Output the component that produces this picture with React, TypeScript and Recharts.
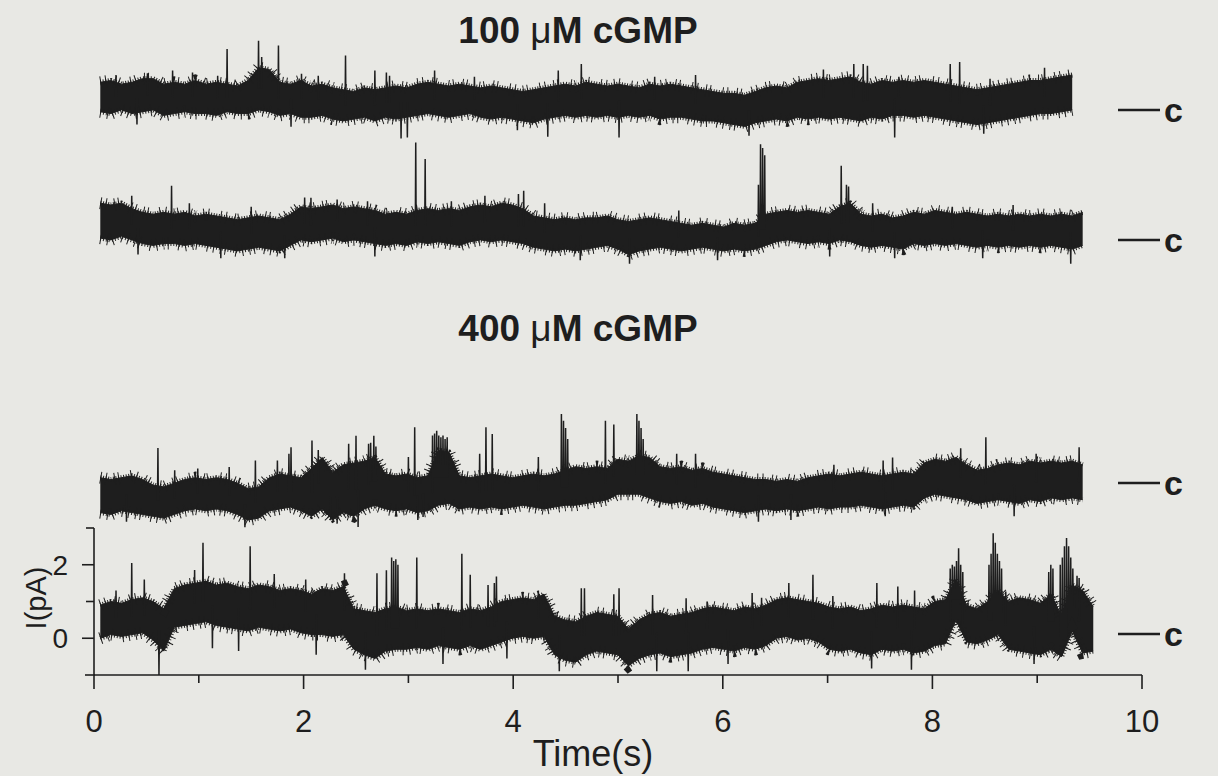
import React from 'react'
import { Area, ComposedChart, Line, XAxis, YAxis } from 'recharts'

const INK = '#1e1e1e'
const PAPER = '#e8e8e4'
const SANS = "'Liberation Sans', Arial, sans-serif"

const T0 = 0.06
const DT = 0.1008

const TIME_TICKS = [0, 1, 2, 3, 4, 5, 6, 7, 8, 9, 10]
const CURRENT_TICKS = [0, 1, 2, 3]

// 100 uM cGMP, sweep 1
const HI_1 = [
  0.95, 1.0, 0.9, 0.95, 1.05, 1.05, 0.9, 0.95, 0.9, 1.0,
  0.9, 0.95, 0.9, 0.85, 1.0, 1.35, 1.3, 0.95, 0.9, 1.0,
  0.85, 0.9, 0.8, 0.75, 0.7, 0.8, 0.75, 0.8, 0.85, 0.8,
  0.9, 0.95, 0.9, 0.85, 0.9, 0.85, 0.8, 0.85, 0.8, 0.75,
  0.7, 0.75, 0.8, 0.85, 0.9, 0.85, 0.95, 0.9,
  0.85, 0.9, 0.85, 0.8, 0.9, 0.85, 0.9, 0.85, 0.8, 0.75,
  0.7, 0.65, 0.65, 0.6, 0.7, 0.8, 0.85, 0.8, 0.95, 1.0,
  1.05, 1.0, 1.05, 1.1, 0.95, 0.9, 1.0, 0.95, 1.0, 0.95,
  1.0, 0.95, 0.9, 0.85, 0.8, 0.75, 0.8, 0.85, 0.9, 0.95,
  1.0, 1.0, 1.05, 1.1, 1.15,
]
const LO_1 = [
  0.15, 0.1, 0.2, 0.1, 0.15, 0.2, 0.05, 0.1, 0.15, 0.1,
  0.1, 0.05, 0.15, 0.1, 0.1, 0.2, 0.15, 0.05, 0.1, 0.0,
  0.0, 0.05, -0.05, -0.1, -0.05, 0.0, -0.1, 0.0, -0.05, 0.0,
  0.05, 0.1, 0.05, 0.0, 0.05, 0.1, 0.0, -0.05, 0.0, -0.05,
  -0.1, -0.15, -0.05, 0.0, 0.05, 0.0, 0.05, 0.0,
  0.05, 0.0, 0.05, 0.0, 0.05, -0.05, 0.0, 0.0, -0.05, -0.1,
  -0.1, -0.15, -0.2, -0.25, -0.15, -0.1, -0.05, -0.1, 0.0, -0.05,
  0.0, -0.05, 0.0, -0.05, -0.1, 0.0, -0.05, 0.05, 0.05, 0.0,
  0.05, 0.0, -0.05, -0.1, -0.15, -0.2, -0.15, -0.1, -0.05, 0.0,
  0.05, 0.1, 0.1, 0.15, 0.2,
]
const SPK_1: [number, number][] = [
  [0.21, 1.15], [0.41, -0.2], [0.51, 1.2], [0.75, 1.27], [0.94, 1.22], [1.18, 1.13], [1.27, 1.86],
  [1.57, 2.08], [1.6, 1.64], [1.76, 1.95], [1.88, -0.26], [1.98, 1.18], [2.14, 1.13], [2.4, 1.68],
  [2.68, 1.27], [2.79, 1.22], [2.82, 1.13], [2.93, -0.58], [2.99, -0.55], [3.25, 1.27], [3.63, 1.1],
  [4.04, -0.35], [4.33, -0.53], [4.43, 1.27], [4.65, 1.45], [5.01, -0.55], [5.35, 1.1], [5.74, 1.15],
  [6.25, -0.5], [6.96, 1.3], [7.25, 1.45], [7.34, 1.45], [7.38, 1.4], [7.64, -0.55], [7.68, 1.1],
  [8.17, 1.45], [8.26, 1.5], [8.49, -0.45], [8.55, 1.05], [9.07, 1.35],
]

// 100 uM cGMP, sweep 2
const HI_2 = [
  1.2, 1.15, 1.2, 1.05, 0.95, 0.9, 0.95, 0.9, 0.95, 0.85,
  0.9, 0.85, 0.8, 0.75, 0.8, 0.85, 0.8, 0.75, 0.9, 1.1,
  1.05, 1.1, 1.15, 1.05, 1.1, 1.05, 1.0, 0.9, 0.95, 0.9,
  1.0, 1.05, 1.0, 1.05, 1.0, 1.1, 1.15, 1.1, 1.2, 1.15,
  1.05, 0.85, 0.8, 0.75, 0.8, 0.75, 0.8,
  0.8, 0.85, 0.75, 0.7, 0.75, 0.8, 0.75, 0.7, 0.65, 0.6,
  0.65, 0.6, 0.55, 0.65, 0.6, 0.65, 0.9, 0.95, 1.0, 0.95,
  1.0, 0.95, 0.9, 1.1, 1.2, 0.9, 0.85, 0.9, 0.8, 0.85,
  0.95, 0.9, 1.0, 0.95, 0.9, 0.95, 0.9, 0.85, 0.9, 0.85,
  0.9, 0.85, 0.9, 0.85, 0.9, 0.85, 0.95,
]
const LO_2 = [
  0.25, 0.2, 0.3, 0.2, 0.1, 0.05, 0.1, 0.1, 0.05, 0.1,
  0.05, 0.0, -0.05, -0.1, -0.05, 0.0, -0.05, -0.1, 0.05, 0.2,
  0.15, 0.2, 0.25, 0.15, 0.2, 0.15, 0.1, 0.05, 0.1, 0.05,
  0.15, 0.1, 0.15, 0.1, 0.05, 0.15, 0.2, 0.15, 0.2, 0.15,
  0.1, 0.0, -0.05, -0.1, -0.05, -0.1, -0.05,
  0.0, 0.05, -0.05, -0.2, -0.1, -0.05, 0.0, -0.05, -0.1, -0.05,
  0.0, -0.05, -0.1, -0.05, -0.1, -0.05, 0.05, 0.15, 0.2, 0.15,
  0.1, 0.15, 0.1, 0.2, 0.15, 0.05, 0.0, 0.05, 0.0, -0.05,
  0.1, 0.05, 0.1, 0.05, 0.1, 0.05, 0.0, 0.05, 0.0, 0.05,
  0.0, 0.05, 0.0, 0.05, 0.0, -0.05, 0.05,
]
const SPK_2: [number, number][] = [
  [0.36, 1.4], [0.42, -0.2], [0.74, 1.67], [0.91, 1.2], [1.21, -0.3], [1.5, 1.1], [1.82, -0.3],
  [2.01, 1.35], [2.07, 1.35], [2.32, 1.3], [2.61, 1.25], [2.68, -0.25], [3.07, 2.85], [3.16, 2.4],
  [3.41, 1.25], [3.73, 1.4], [4.05, 1.45], [4.1, 1.54], [4.3, 1.2], [4.64, -0.35], [5.11, -0.45],
  [5.58, 1.0], [5.95, -0.35], [6.34, 1.7], [6.36, 2.8], [6.38, 2.7], [6.4, 2.5], [7.02, -0.25],
  [7.13, 2.22], [7.18, 1.7], [7.2, 1.65], [7.43, 1.2], [7.64, -0.3], [8.19, 1.1], [8.48, -0.3],
  [8.77, 1.15], [9.32, -0.45],
]

// 400 uM cGMP, sweep 1
const HI_3 = [
  0.75, 0.7, 0.75, 0.8, 0.7, 0.55, 0.5, 0.6, 0.7, 0.75,
  0.7, 0.75, 0.7, 0.6, 0.45, 0.5, 0.75, 0.85, 0.8, 0.75,
  1.0, 1.3, 0.9, 1.1, 1.15, 1.2, 1.3, 0.85, 0.8, 0.85,
  0.75, 0.8, 1.5, 1.45, 0.8, 0.75, 0.8, 0.85, 0.8, 0.75,
  0.8, 0.85, 0.8, 0.85, 0.95, 1.05, 1.0, 1.05, 1.0, 1.25,
  1.2, 1.35, 1.3, 1.05, 1.0, 1.05, 0.95, 1.0, 0.9, 0.85,
  0.8, 0.75, 0.7, 0.7, 0.65, 0.7, 0.65, 0.75, 0.8, 0.85,
  0.8, 0.85, 0.9, 0.85, 0.8, 0.85, 0.9, 0.85, 1.15, 1.25,
  1.2, 1.3, 1.1, 0.95, 1.0, 1.1, 1.15, 1.1, 1.2, 1.15,
  1.2, 1.15, 1.2, 1.1,
]
const LO_3 = [
  -0.2, -0.25, -0.15, -0.2, -0.25, -0.3, -0.35, -0.25, -0.15, -0.1,
  -0.15, -0.1, -0.15, -0.25, -0.4, -0.35, -0.15, -0.1, -0.05, -0.15,
  -0.3, -0.1, -0.4, -0.2, -0.3, -0.1, 0.0, -0.1, -0.15, -0.1,
  -0.2, -0.15, 0.0, 0.05, -0.1, -0.05, -0.1, -0.05, -0.1, -0.05,
  0.0, -0.05, -0.1, -0.05, 0.0, 0.0, 0.05, 0.1, 0.15, 0.3,
  0.3, 0.3, 0.2, 0.1, 0.05, 0.1, 0.0, 0.05, -0.05, -0.1,
  -0.15, -0.2, -0.15, -0.1, -0.15, -0.1, -0.15, -0.1, -0.05, -0.1,
  -0.05, -0.05, 0.0, -0.05, -0.1, -0.05, 0.0, -0.05, 0.2, 0.3,
  0.25, 0.2, 0.15, 0.05, 0.1, 0.15, 0.1, 0.05, 0.15, 0.1,
  0.2, 0.15, 0.2, 0.15,
]
const SPK_3: [number, number][] = [
  [0.31, -0.45], [0.61, 1.56], [0.77, 0.95], [0.99, 1.0], [1.29, 1.04], [1.44, -0.6], [1.54, 1.22],
  [1.75, 1.22], [1.86, 1.4], [1.88, 1.58], [2.08, 1.76], [2.14, 1.5], [2.26, -0.41], [2.32, -0.5],
  [2.43, 1.67], [2.5, 1.89], [2.52, -0.59], [2.62, 1.67], [2.64, 1.7], [2.67, 1.89], [2.69, 1.6],
  [3.0, 1.31], [3.06, 2.12], [3.09, -0.4], [3.14, -0.32], [3.23, 1.9], [3.25, 1.95], [3.27, 2.03],
  [3.29, 1.9], [3.31, 1.85], [3.33, 1.9], [3.35, 1.8], [3.37, 1.85], [3.68, 1.4], [3.74, 2.12],
  [3.8, 1.94], [4.24, 1.31], [4.46, 2.48], [4.48, 2.3], [4.5, 2.1], [4.52, 1.8], [4.88, 2.3],
  [4.96, 2.2], [5.18, 2.48], [5.2, 2.3], [5.22, 2.1], [5.24, 1.8], [5.56, 1.4], [5.74, 1.4],
  [6.34, -0.45], [6.65, -0.4], [7.06, 1.1], [7.53, 1.22], [7.55, -0.3], [7.62, 1.3], [8.27, 1.55],
  [8.51, 1.85], [8.78, -0.3], [8.99, 1.4], [9.4, 1.58],
]

// 400 uM cGMP, sweep 2 (the one with the current axis)
const HI_4 = [
  0.9, 1.0, 0.95, 1.05, 1.1, 1.0, 0.8, 1.35, 1.45, 1.5,
  1.55, 1.45, 1.5, 1.4, 1.35, 1.45, 1.4, 1.3, 1.35, 1.3,
  1.2, 1.35, 1.3, 1.4, 0.8, 0.75, 0.7, 0.8, 0.85, 0.75,
  0.8, 0.75, 0.8, 0.75, 0.7, 0.8, 0.75, 0.85, 1.0, 1.05,
  1.1, 1.05, 1.2, 0.6, 0.5, 0.45, 0.6, 0.7, 0.65, 0.6,
  0.25, 0.5, 0.65, 0.7, 0.6, 0.65, 0.7, 0.8, 0.85, 0.8,
  0.75, 0.85, 0.8, 0.9, 1.05, 1.1, 1.05, 1.0, 0.95, 0.85,
  0.8, 0.85, 0.75, 0.8, 0.9, 0.85, 0.9, 0.85, 0.8, 1.0,
  1.05, 1.6, 0.9, 0.8, 1.0, 1.3, 1.0, 1.1, 1.05, 0.95,
  1.2, 0.6, 1.45, 1.3, 0.85,
]
const LO_4 = [
  0.0, 0.1, 0.05, 0.1, 0.15, -0.05, -0.35, 0.3, 0.35, 0.4,
  0.45, 0.35, 0.3, 0.25, 0.2, 0.3, 0.25, 0.2, 0.25, 0.15,
  0.1, 0.1, 0.05, 0.1, -0.3, -0.45, -0.55, -0.35, -0.3, -0.3,
  -0.25, -0.3, -0.2, -0.25, -0.3, -0.2, -0.3, -0.2, -0.1, 0.0,
  0.05, 0.0, 0.05, -0.45, -0.6, -0.65, -0.45, -0.35, -0.4, -0.45,
  -0.75, -0.55, -0.45, -0.4, -0.5, -0.45, -0.4, -0.3, -0.25, -0.3,
  -0.35, -0.25, -0.3, -0.2, 0.0, 0.05, -0.05, 0.0, -0.1, -0.3,
  -0.35, -0.3, -0.4, -0.45, -0.3, -0.35, -0.3, -0.4, -0.35, -0.2,
  -0.15, 0.5, -0.1, -0.15, -0.05, 0.1, -0.3, -0.35, -0.4, -0.45,
  -0.3, -0.5, 0.2, -0.4, -0.35,
]
const SPK_4: [number, number][] = [
  [0.21, 1.3], [0.36, 2.05], [0.48, 1.6], [0.62, -1.0], [0.96, 1.86], [1.04, 2.6], [1.13, -0.27],
  [1.38, -0.35], [1.49, 2.5], [1.72, 1.75], [2.02, 1.6], [2.12, -0.45], [2.39, 1.77], [2.59, -0.86],
  [2.7, 1.77], [2.79, 1.85], [2.84, 2.2], [2.86, 2.1], [2.88, 2.15], [2.9, 2.0], [3.08, 2.2],
  [3.33, -0.7], [3.51, 2.3], [3.59, 1.73], [3.76, 1.45], [3.82, 1.5], [3.84, 1.68], [3.94, -0.55],
  [4.24, 1.3], [4.44, -0.9], [4.65, 1.36], [4.68, 1.36], [4.96, 1.2], [5.01, 1.36], [5.33, 1.18],
  [5.37, -0.9], [5.65, 1.09], [5.67, -0.9], [5.85, 1.0], [6.05, -0.7], [6.28, 1.23], [6.37, 1.1],
  [6.63, 1.5], [6.86, 1.73], [7.05, 1.15], [7.42, -0.82], [7.47, 1.5], [7.67, 1.41], [7.8, -0.86],
  [7.83, 1.3], [8.17, 1.9], [8.19, 2.0], [8.21, 1.95], [8.23, 2.1], [8.25, 2.45], [8.27, 2.0],
  [8.29, 1.8], [8.54, 2.0], [8.56, 2.3], [8.58, 2.86], [8.6, 2.6], [8.62, 2.3], [8.64, 2.1],
  [8.66, 1.9], [8.7, 1.27], [8.97, -0.7], [9.11, 1.8], [9.13, 2.0], [9.15, 1.9], [9.22, 2.0],
  [9.24, 2.2], [9.26, 2.5], [9.28, 2.73], [9.3, 2.5], [9.32, 2.2], [9.34, 1.9], [9.38, 1.7],
  [9.4, 1.64],
]

// plot geometry (px) shared by all four sweeps
const X0 = 94
const PLOT_W = 1048
const PLOT_H = 147

type Row = { t: number; hi: number; lo: number; range: [number, number] }
type SpikeRow = { t: number; s: number | null }

function bandRows(hi: number[], lo: number[]): Row[] {
  return hi.map((h, i) => ({ t: +(T0 + i * DT).toFixed(3), hi: h, lo: lo[i], range: [lo[i], h] }))
}

function spikeRows(list: [number, number][], rows: Row[]): SpikeRow[] {
  const out: SpikeRow[] = []
  list.forEach(([t, v]) => {
    const i = Math.min(rows.length - 1, Math.max(0, Math.round((t - T0) / DT)))
    const base = (rows[i].hi + rows[i].lo) / 2
    out.push({ t: t - 0.004, s: base }, { t, s: v }, { t: t + 0.004, s: base }, { t: t + 0.005, s: null })
  })
  return out
}

function TimeTick(props: any) {
  const { x, y, payload } = props
  const v = payload.value as number
  const major = v % 2 === 0
  return (
    <g>
      <line x1={x} y1={y} x2={x} y2={y + (major ? 14 : 8)} stroke={INK} strokeWidth={1.6} />
      {major && (
        <text x={x} y={y + 57} textAnchor="middle" fontSize={31} fill={INK} fontFamily={SANS}>
          {v}
        </text>
      )}
    </g>
  )
}

function CurrentTick(props: any) {
  const { x, y, payload } = props
  const v = payload.value as number
  const major = v % 2 === 0
  return (
    <g>
      <line x1={x} y1={y} x2={x - (major ? 12 : 8)} y2={y} stroke={INK} strokeWidth={1.6} />
      {major && (
        <text x={x - 26} y={y + 10} textAnchor="end" fontSize={28} fill={INK} fontFamily={SANS}>
          {v}
        </text>
      )}
    </g>
  )
}

// band fill, comb-like fringe on both edges, then the fast openings/closings
function Trace({ rows, spikes }: { rows: Row[]; spikes: SpikeRow[] }) {
  const edge = { data: rows, type: 'linear' as const, stroke: INK, dot: false, activeDot: false, isAnimationActive: false }
  return (
    <>
      <Area
        data={rows}
        dataKey="range"
        type="linear"
        stroke={INK}
        strokeWidth={1}
        fill={INK}
        fillOpacity={1}
        dot={false}
        activeDot={false}
        isAnimationActive={false}
      />
      <Line {...edge} dataKey="hi" strokeWidth={5} strokeDasharray="1 1.6" />
      <Line {...edge} dataKey="lo" strokeWidth={5} strokeDasharray="1 1.9" />
      <Line {...edge} dataKey="hi" strokeWidth={12} strokeDasharray="1 4.3 1 7.9 1 3.1 1 11.7" />
      <Line {...edge} dataKey="lo" strokeWidth={12} strokeDasharray="1 6.1 1 3.7 1 9.9 1 5.3" />
      <Line
        data={spikes}
        dataKey="s"
        type="linear"
        stroke={INK}
        strokeWidth={1.5}
        dot={false}
        activeDot={false}
        connectNulls={false}
        isAnimationActive={false}
      />
    </>
  )
}

function Sweep({ hi, lo, spk, top }: { hi: number[]; lo: number[]; spk: [number, number][]; top: number }) {
  const rows = bandRows(hi, lo)
  const spikes = spikeRows(spk, rows)
  return (
    <div style={{ position: 'absolute', left: X0, top, width: PLOT_W, height: PLOT_H }}>
      <ComposedChart width={PLOT_W} height={PLOT_H} margin={{ top: 0, right: 0, left: 0, bottom: 0 }}>
        <XAxis type="number" dataKey="t" domain={[0, 10]} allowDataOverflow hide />
        <YAxis type="number" domain={[-1, 3]} allowDataOverflow hide />
        {Trace({ rows, spikes })}
      </ComposedChart>
    </div>
  )
}

function AxisSweep({ hi, lo, spk }: { hi: number[]; lo: number[]; spk: [number, number][] }) {
  const rows = bandRows(hi, lo)
  const spikes = spikeRows(spk, rows)
  return (
    <div style={{ position: 'absolute', left: 0, top: 500, width: 1218, height: 276 }}>
      <ComposedChart width={1218} height={276} margin={{ top: 28, right: 1218 - X0 - PLOT_W, left: 0, bottom: 0 }}>
        <XAxis
          type="number"
          dataKey="t"
          domain={[0, 10]}
          ticks={TIME_TICKS}
          interval={0}
          allowDataOverflow
          height={101}
          tickSize={0}
          tickMargin={0}
          tickLine={false}
          axisLine={{ stroke: INK, strokeWidth: 1.6 }}
          tick={TimeTick}
        />
        <YAxis
          type="number"
          domain={[-1, 3]}
          ticks={CURRENT_TICKS}
          interval={0}
          allowDataOverflow
          width={X0}
          tickSize={0}
          tickMargin={0}
          tickLine={false}
          axisLine={{ stroke: INK, strokeWidth: 1.6 }}
          tick={CurrentTick}
        />
        {Trace({ rows, spikes })}
      </ComposedChart>
    </div>
  )
}

const C_MARKS = [110, 240, 483, 634]

export default function App() {
  return (
    <div style={{ position: 'fixed', left: 0, top: 0, width: 1218, height: 776, background: PAPER, overflow: 'hidden' }}>
      <Sweep hi={HI_1} lo={LO_1} spk={SPK_1} top={7} />
      <Sweep hi={HI_2} lo={LO_2} spk={SPK_2} top={137} />
      <Sweep hi={HI_3} lo={LO_3} spk={SPK_3} top={395} />
      <AxisSweep hi={HI_4} lo={LO_4} spk={SPK_4} />
      <svg width={1218} height={776} style={{ position: 'absolute', left: 0, top: 0, pointerEvents: 'none' }}>
        <g fontFamily={SANS} fill={INK}>
          <text x={578} y={43} textAnchor="middle" fontSize={37} fontWeight="bold">
            100 <tspan fontWeight="normal">μ</tspan>M cGMP
          </text>
          <text x={578} y={341} textAnchor="middle" fontSize={37} fontWeight="bold">
            400 <tspan fontWeight="normal">μ</tspan>M cGMP
          </text>
          {C_MARKS.map((y) => (
            <g key={y}>
              <line x1={1118} x2={1160} y1={y} y2={y} stroke={INK} strokeWidth={2.4} />
              <text x={1164} y={y + 12} fontSize={34} fontWeight="bold">
                c
              </text>
            </g>
          ))}
          <line x1={85} x2={95} y1={675} y2={675} stroke={INK} strokeWidth={1.6} />
          <text x={46} y={598} textAnchor="middle" fontSize={29} transform="rotate(-90 46 598)">
            I(pA)
          </text>
          <text x={593} y={766} textAnchor="middle" fontSize={36}>
            Time(s)
          </text>
        </g>
      </svg>
    </div>
  )
}
